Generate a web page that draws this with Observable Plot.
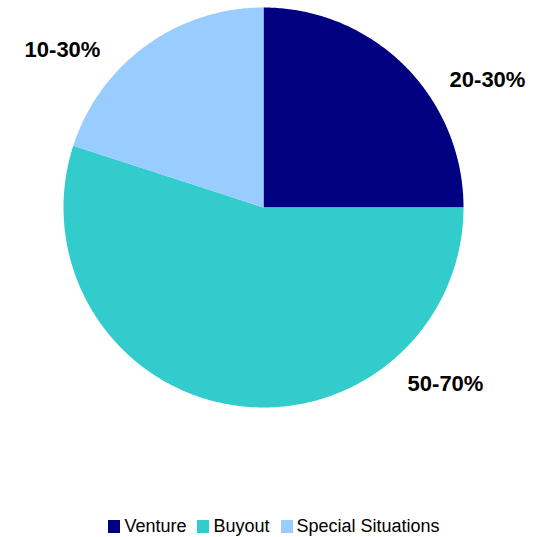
<!DOCTYPE html>
<html>
<head>
<meta charset="utf-8">
<script src="https://cdn.jsdelivr.net/npm/d3@7"></script>
<script src="https://cdn.jsdelivr.net/npm/@observablehq/plot@0.6"></script>
<style>
  html, body { margin: 0; padding: 0; background: #fff; }
  body { width: 544px; font-family: "Liberation Sans", Arial, sans-serif; }
  #legend { display: flex; justify-content: center; align-items: center; height: 42px; font-size: 18px; color: #000; padding-left: 4px; }
  .item { display: flex; align-items: center; margin-right: 11px; }
  .item:last-child { margin-right: 0; }
  .sw { width: 12px; height: 13px; margin-right: 4px; }
</style>
</head>
<body>
<div id="chart"></div>
<div id="legend"></div>
<script>
// Data
const categories = ["Venture", "Buyout", "Special Situations"];
const shares = [25, 55, 20];
const labels = ["20-30%", "50-70%", "10-30%"];
const colors = ["#000080", "#33CCCC", "#99CCFF"];

// Layout for labels (data units, radius = 1)
const labelPos = [[1.12, 0.64], [0.91, -0.88], [-1.005, 0.79]];

const pie = d3.pie().sort(null).value(d => d)(shares);
const pts = [];
pie.forEach((p, i) => {
  const n = Math.max(4, Math.ceil((p.endAngle - p.startAngle) / 0.01));
  pts.push({cat: categories[i], x: 0, y: 0});
  for (let k = 0; k <= n; k++) {
    const a = p.startAngle + (p.endAngle - p.startAngle) * k / n;
    pts.push({cat: categories[i], x: Math.sin(a), y: Math.cos(a)});
  }
  pts.push({cat: categories[i], x: 0, y: 0});
});
const textData = categories.map((c, i) => ({cat: c, label: labels[i], x: labelPos[i][0], y: labelPos[i][1]}));

const chart = Plot.plot({
  width: 544,
  height: 505,
  marginLeft: 63,
  marginRight: 81,
  marginTop: 7,
  marginBottom: 98,
  x: {domain: [-1, 1], axis: null},
  y: {domain: [-1, 1], axis: null},
  color: {domain: categories, range: colors},
  style: {fontFamily: "Liberation Sans, Arial, sans-serif", background: "#fff"},
  marks: [
    Plot.line(pts, {x: "x", y: "y", z: "cat", fill: "cat", stroke: null, curve: "linear"}),
    Plot.text(textData, {x: "x", y: "y", text: "label", fontSize: 22, fontWeight: "bold", fill: "#000", clip: false})
  ]
});
document.getElementById("chart").appendChild(chart);

const leg = document.getElementById("legend");
categories.forEach((c, i) => {
  const it = document.createElement("div");
  it.className = "item";
  const sw = document.createElement("div");
  sw.className = "sw";
  sw.style.background = colors[i];
  const t = document.createElement("span");
  t.textContent = c;
  it.appendChild(sw); it.appendChild(t);
  leg.appendChild(it);
});
</script>
</body>
</html>
